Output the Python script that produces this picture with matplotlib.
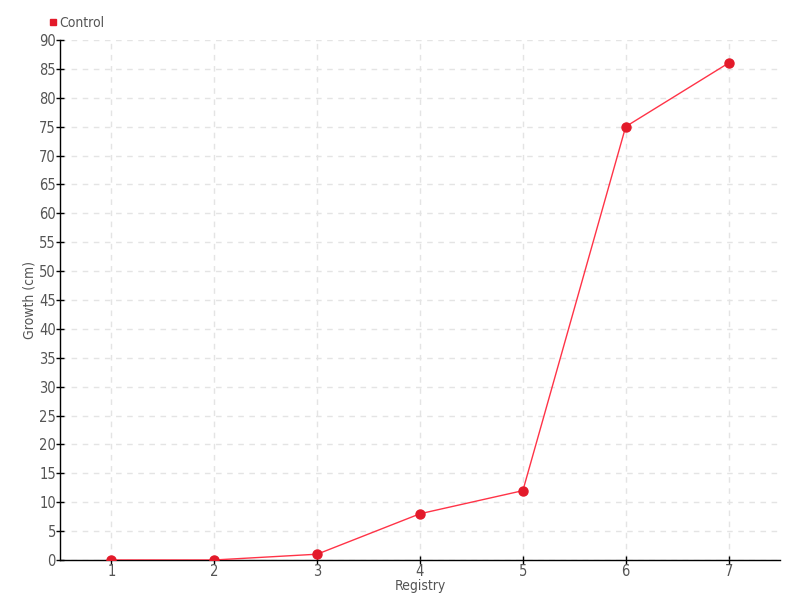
import matplotlib
matplotlib.use("Agg")
import matplotlib.pyplot as plt
from matplotlib.lines import Line2D

registry = [1, 2, 3, 4, 5, 6, 7]
control = [0, 0, 1, 8, 12, 75, 86]
y_ticks = list(range(0, 91, 5))

plt.rcParams['font.family'] = ['DejaVu Sans']
plt.rcParams['font.stretch'] = 'condensed'

fig = plt.figure(figsize=(8, 6), dpi=100)
ax = fig.add_axes([0.075, 0.0667, 0.9, 0.8667])

ax.plot(registry, control, color='#ff3347', lw=1.0, marker='o', markersize=6.5,
        markerfacecolor='#e31a2a', markeredgecolor='#e31a2a', zorder=3)

ax.set_xlim(0.5, 7.5)
ax.set_ylim(0, 90)
ax.set_xticks(registry)
ax.set_yticks(y_ticks)
ax.grid(True, color='#e4e4e4', linestyle=(0, (4, 4)), linewidth=1)
ax.set_axisbelow(True)
for s in ['top', 'right']:
    ax.spines[s].set_visible(False)
for s in ['left', 'bottom']:
    ax.spines[s].set_color('black')
    ax.spines[s].set_linewidth(1)
ax.tick_params(direction='inout', length=6, width=1, colors='black',
               labelcolor='#555555', labelsize=10.5, pad=0)

ax.set_xlabel('Registry', color='#555555', fontsize=10, labelpad=0)
ax.set_ylabel('Growth (cm)', color='#555555', fontsize=10, labelpad=2)

handle = Line2D([], [], color='#e31a2a', marker='s', linestyle='none', markersize=4.5)
fig.legend([handle], ['Control'], loc='upper left', bbox_to_anchor=(0.046, 0.99),
           frameon=False, fontsize=10, handletextpad=0.0, handlelength=0.9,
           labelcolor='#555555', borderaxespad=0.3)

fig.savefig('out.png', dpi=100)
